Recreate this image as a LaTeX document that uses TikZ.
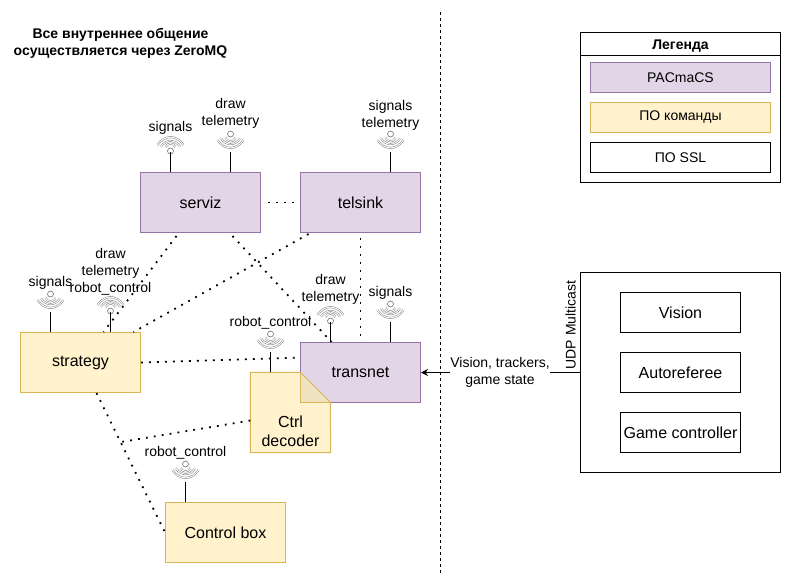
\documentclass[tikz,border=0pt]{standalone}
\usepackage{fontspec}
\setmainfont{Liberation Sans}
\usetikzlibrary{arrows.meta}
\definecolor{pacfill}{HTML}{E1D5E7}
\definecolor{pacline}{HTML}{9673A6}
\definecolor{teamfill}{HTML}{FFF2CC}
\definecolor{teamline}{HTML}{D6B656}
\definecolor{foldfill}{HTML}{EFE3BF}
\newcommand{\wifishape}{%
  \draw[wifiline,fill=white] (0,0) circle (3);
  \draw[wifiarc] (-5,4) .. controls (-2.5,8.5) and (2.5,8.5) .. (5,4);
  \draw[wifiarc] (-9.5,4.5) .. controls (-4,12) and (4,12) .. (9.5,4.5);
  \draw[wifiarc] (-13,6) .. controls (-6,16.5) and (6,16.5) .. (13,6);
}
\tikzset{
  txt/.style={align=center,inner sep=0pt,font=\fontsize{14}{17}\selectfont},
  bigtxt/.style={font=\fontsize{16}{19}\selectfont},
  pacbox/.style={txt,draw=pacline,fill=pacfill,line width=1pt},
  teambox/.style={txt,draw=teamline,fill=teamfill,line width=1pt},
  sslbox/.style={txt,draw=black,line width=1pt},
  zmqlink/.style={line width=1.8pt,dash pattern=on 1.8pt off 6.2pt},
  wifiline/.style={draw=black!55,line width=.6pt},
  wifiarc/.style={draw=black!55,line width=.45pt,double=white,double distance=1pt},
  wifi/.pic={
    \wifishape
    \coordinate (-link) at (0,18);
  },
  wifiup/.pic={
    \begin{scope}[y=1pt]
      \wifishape
    \end{scope}
    \coordinate (-link) at (0,1);
  },
}
\begin{document}
\begin{tikzpicture}[x=1pt,y=-1pt]
    \useasboundingbox (0,0) rectangle (805,574);
    \node[txt,font=\fontsize{14}{17}\selectfont\bfseries] (note) at (120.5,43) {Все внутреннее общение\\осуществляется через ZeroMQ};
    \coordinate (divtop) at (440.5,12);
    \coordinate (divbot) at (440.5,573);
    \draw[line width=1pt,dash pattern=on 3pt off 3pt] (divtop) -- (divbot);

    \node[pacbox,bigtxt,minimum width=120pt,minimum height=60pt] (serviz) at (200.5,202.5) {serviz};
    \node[pacbox,bigtxt,minimum width=120pt,minimum height=60pt] (telsink) at (360.5,202.5) {telsink};
    \node[pacbox,bigtxt,minimum width=120pt,minimum height=60pt] (transnet) at (360.5,372.5) {transnet};
    \node[teambox,bigtxt,minimum width=120pt,minimum height=60pt] (strategy) at (80.5,362.5) {strategy};
    \node[teambox,bigtxt,minimum width=120pt,minimum height=60pt] (controlbox) at (225.5,532.5) {Control box};

    \node[inner sep=0pt,minimum size=80pt] (ctrl) at (290.5,412.5) {};
    \fill[teamfill] (ctrl.north west) -- ++(50,0) -- ++(30,30) -- (ctrl.south east) -- (ctrl.south west) -- cycle;
    \fill[foldfill] ([xshift=-30pt]ctrl.north east) -- ++(0,30) -- ++(30,0) -- cycle;
    \draw[teamline,line width=1pt] ([xshift=-30pt]ctrl.north east) -- ++(0,30) -- ++(30,0);
    \draw[teamline,line width=1pt] (ctrl.north west) -- ++(50,0) -- ++(30,30) -- (ctrl.south east) -- (ctrl.south west) -- cycle;
    \node[txt,bigtxt] (ctrltext) at (290.5,431.5) {Ctrl\\decoder};

    \coordinate (ctrljoin) at (121,442);
    \draw[zmqlink] ([xshift=7pt]serviz.east) -- (telsink.west);
    \draw[zmqlink] ([xshift=-24pt,yshift=-3pt]serviz.south) -- ([xshift=23pt]strategy.north);
    \draw[zmqlink] ([xshift=-52pt,yshift=-1pt]telsink.south) -- ([xshift=53pt]strategy.north);
    \draw[zmqlink] ([xshift=32pt,yshift=-3pt]serviz.south) -- ([xshift=-29pt]transnet.north);
    \draw[zmqlink] ([yshift=-5pt]telsink.south) -- (transnet.north);
    \draw[zmqlink] (strategy.east) -- ([yshift=15pt]transnet.west);
    \draw[zmqlink] ([xshift=16pt]strategy.south) -- (controlbox.west);
    \draw[zmqlink] ([yshift=-8pt]ctrl.west) -- (ctrljoin);

    \pic (servizsig) at (170.5,151) {wifiup};
    \pic (servizdraw) at (230.5,134) {wifi};
    \pic (telsinksig) at (390.5,134) {wifi};
    \pic (strategysig) at (50.5,294) {wifi};
    \pic (strategydraw) at (110.5,311) {wifiup};
    \pic (transnetdraw) at (330.5,321) {wifiup};
    \pic (transnetsig) at (390.5,304) {wifi};
    \pic (ctrlsig) at (270.5,334) {wifi};
    \pic (controlsig) at (185.5,464) {wifi};
    \draw[line width=1pt] (servizsig-link) -- (servizsig-link |- serviz.north);
    \draw[line width=1pt] (servizdraw-link) -- (servizdraw-link |- serviz.north);
    \draw[line width=1pt] (telsinksig-link) -- (telsinksig-link |- telsink.north);
    \draw[line width=1pt] (strategysig-link) -- (strategysig-link |- strategy.north);
    \draw[line width=1pt] (strategydraw-link) -- (strategydraw-link |- strategy.north);
    \draw[line width=1pt] (transnetdraw-link) -- (transnetdraw-link |- transnet.north);
    \draw[line width=1pt] (transnetsig-link) -- (transnetsig-link |- transnet.north);
    \draw[line width=1pt] (ctrlsig-link) -- (ctrlsig-link |- ctrl.north);
    \draw[line width=1pt] (controlsig-link) -- (controlsig-link |- controlbox.north);

    \node[txt] (servizsiglabel) at (170.5,127.5) {signals};
    \node[txt] (servizdrawlabel) at (230.5,113.5) {draw\\telemetry};
    \node[txt] (telsinklabel) at (390.5,115.5) {signals\\telemetry};
    \node[txt] (strategysiglabel) at (50.5,282.5) {signals};
    \node[txt] (strategydrawlabel) at (110.5,271.5) {draw\\telemetry\\robot\_control};
    \node[txt] (transnetdrawlabel) at (330.5,289.5) {draw\\telemetry};
    \node[txt] (transnetsiglabel) at (390.5,292.5) {signals};
    \node[txt] (ctrlsiglabel) at (270.5,322.5) {robot\_control};
    \node[txt] (controlsiglabel) at (185.5,452.5) {robot\_control};

    \node[sslbox,minimum width=200pt,minimum height=150pt] (legend) at (680.5,107.5) {};
    \node[sslbox,minimum width=200pt,minimum height=23pt,text height=10pt,text depth=0pt,font=\fontsize{14}{17}\selectfont\bfseries] (legendtitle) at (680.5,44) {Легенда};
    \node[pacbox,minimum width=180pt,minimum height=30pt] (legendpac) at (680.5,77.5) {PACmaCS};
    \node[teambox,minimum width=180pt,minimum height=30pt] (legendteam) at (680.5,117.5) {ПО команды};
    \node[sslbox,minimum width=180pt,minimum height=30pt] (legendssl) at (680.5,157.5) {ПО SSL};

    \node[sslbox,minimum width=200pt,minimum height=200pt] (udp) at (680.5,372.5) {};
    \node[sslbox,bigtxt,minimum width=120pt,minimum height=40pt] (vision) at (680.5,312.5) {Vision};
    \node[sslbox,bigtxt,minimum width=120pt,minimum height=40pt] (autoref) at (680.5,372.5) {Autoreferee};
    \node[sslbox,bigtxt,minimum width=120pt,minimum height=40pt] (gamectrl) at (680.5,432.5) {Game controller};
    \node[txt,rotate=90] (udplabel) at (570.5,325) {UDP Multicast};

    \draw[line width=1pt,-{Stealth[length=7pt,width=7pt]}] (udp.west) -- (transnet.east);
    \node[txt,fill=white] (streamlabel) at (500,372.5) {Vision, trackers,\\game state};
\end{tikzpicture}
\end{document}
